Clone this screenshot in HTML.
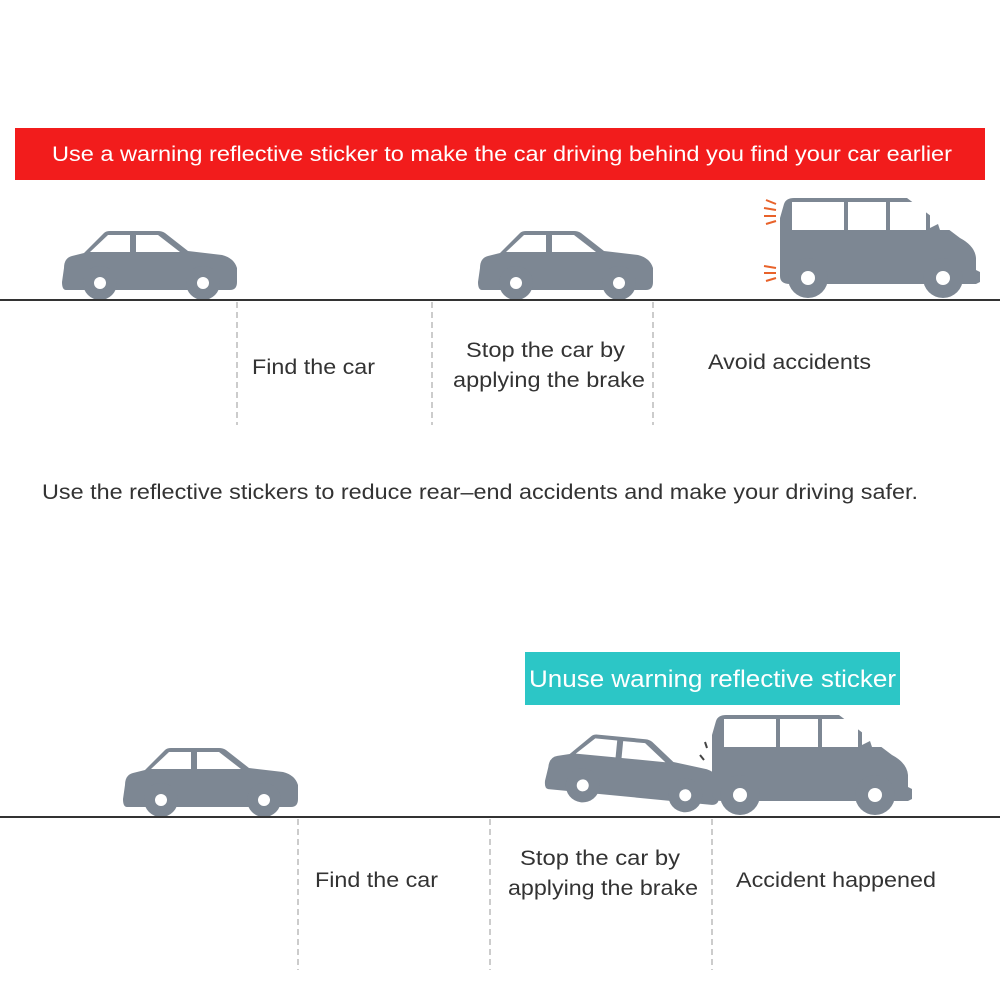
<!DOCTYPE html>
<html><head><meta charset="utf-8"><style>
html,body{margin:0;padding:0;background:#fff;}
svg{display:block;font-family:"Liberation Sans",Arial,sans-serif;}
</style></head><body>
<svg width="1000" height="1000" viewBox="0 0 1000 1000" xmlns="http://www.w3.org/2000/svg">
<defs>
<g id="car">
<path d="M2,38 Q2,28 10,26 L22,23 L42,3 Q44,1 48,1 L96,1 Q100,1 103,3 L126,21 L160,25 Q172,28 175,38 L175,52 Q175,60 168,60 L4,60 Q0,60 0,52 Z" fill="#7d8793"/>
<path d="M28,22 L46,5 L68,5 L68,22 Z" fill="#fff"/>
<path d="M74,5 L96,5 L118,22 L74,22 Z" fill="#fff"/>
<circle cx="38" cy="53" r="17" fill="#7d8793"/><circle cx="38" cy="53" r="6" fill="#fff"/>
<circle cx="141" cy="53" r="17" fill="#7d8793"/><circle cx="141" cy="53" r="6" fill="#fff"/>
</g>
<g id="van">
<path d="M4,6 Q6,0 14,0 L127,0 L180,40 Q195,48 196,60 L196,72 L200,74 L200,84 L196,86 L10,86 Q0,86 0,78 L0,20 Z" fill="#7d8793"/>
<rect x="12" y="4" width="52" height="28" fill="#fff"/>
<rect x="68" y="4" width="38" height="28" fill="#fff"/>
<rect x="110" y="4" width="36" height="28" fill="#fff"/>
<path d="M150,4 L172,32 L160,32 L158,26 L150,30 Z" fill="#fff"/>
<circle cx="28" cy="80" r="20" fill="#7d8793"/><circle cx="28" cy="80" r="7" fill="#fff"/>
<circle cx="163" cy="80" r="20" fill="#7d8793"/><circle cx="163" cy="80" r="7" fill="#fff"/>
</g>
</defs>

<rect x="15" y="128" width="970" height="52" fill="#f21c1c"/>
<text x="52" y="161" font-size="21" fill="#fff" textLength="900" lengthAdjust="spacingAndGlyphs">Use a warning reflective sticker to make the car driving behind you find your car earlier</text>

<use href="#car" x="62" y="230"/>
<use href="#car" x="478" y="230"/>
<use href="#van" x="780" y="198"/>
<g stroke="#e8622a" stroke-width="2">
<line x1="766" y1="200" x2="776" y2="204"/><line x1="764" y1="208" x2="776" y2="210"/><line x1="764" y1="216" x2="776" y2="216"/><line x1="766" y1="224" x2="776" y2="221"/>
<line x1="764" y1="266" x2="776" y2="268"/><line x1="764" y1="273" x2="776" y2="273"/><line x1="766" y1="281" x2="776" y2="278"/>
</g>
<line x1="0" y1="300" x2="1000" y2="300" stroke="#333" stroke-width="2"/>
<g stroke="#bbb" stroke-width="1.5" stroke-dasharray="6,4">
<line x1="237" y1="302" x2="237" y2="425"/><line x1="432" y1="302" x2="432" y2="425"/><line x1="653" y1="302" x2="653" y2="425"/>
</g>
<g font-size="21" fill="#333" lengthAdjust="spacingAndGlyphs">
<text x="252" y="374" textLength="123" lengthAdjust="spacingAndGlyphs">Find the car</text>
<text x="466" y="357" textLength="159" lengthAdjust="spacingAndGlyphs">Stop the car by</text>
<text x="453" y="387" textLength="192" lengthAdjust="spacingAndGlyphs">applying the brake</text>
<text x="708" y="369" textLength="163" lengthAdjust="spacingAndGlyphs">Avoid accidents</text>
<text x="42" y="499" textLength="876" lengthAdjust="spacingAndGlyphs">Use the reflective stickers to reduce rear–end accidents and make your driving safer.</text>
</g>

<rect x="525" y="652" width="375" height="53" fill="#2cc6c6"/>
<text x="529" y="687" font-size="24" fill="#fff" textLength="367" lengthAdjust="spacingAndGlyphs">Unuse warning reflective sticker</text>

<use href="#car" x="123" y="747"/>
<g transform="translate(550,729) rotate(5.5)"><use href="#car"/></g>
<use href="#van" x="712" y="715"/>
<g stroke="#444" stroke-width="2"><line x1="705" y1="742" x2="707" y2="748"/><line x1="700" y1="755" x2="704" y2="760"/></g>
<line x1="0" y1="817" x2="1000" y2="817" stroke="#333" stroke-width="2"/>
<g stroke="#bbb" stroke-width="1.5" stroke-dasharray="6,4">
<line x1="298" y1="819" x2="298" y2="970"/><line x1="490" y1="819" x2="490" y2="970"/><line x1="712" y1="819" x2="712" y2="970"/>
</g>
<g font-size="21" fill="#333">
<text x="315" y="887" textLength="123" lengthAdjust="spacingAndGlyphs">Find the car</text>
<text x="520" y="865" textLength="160" lengthAdjust="spacingAndGlyphs">Stop the car by</text>
<text x="508" y="895" textLength="190" lengthAdjust="spacingAndGlyphs">applying the brake</text>
<text x="736" y="887" textLength="200" lengthAdjust="spacingAndGlyphs">Accident happened</text>
</g>
</svg>
</body></html>
